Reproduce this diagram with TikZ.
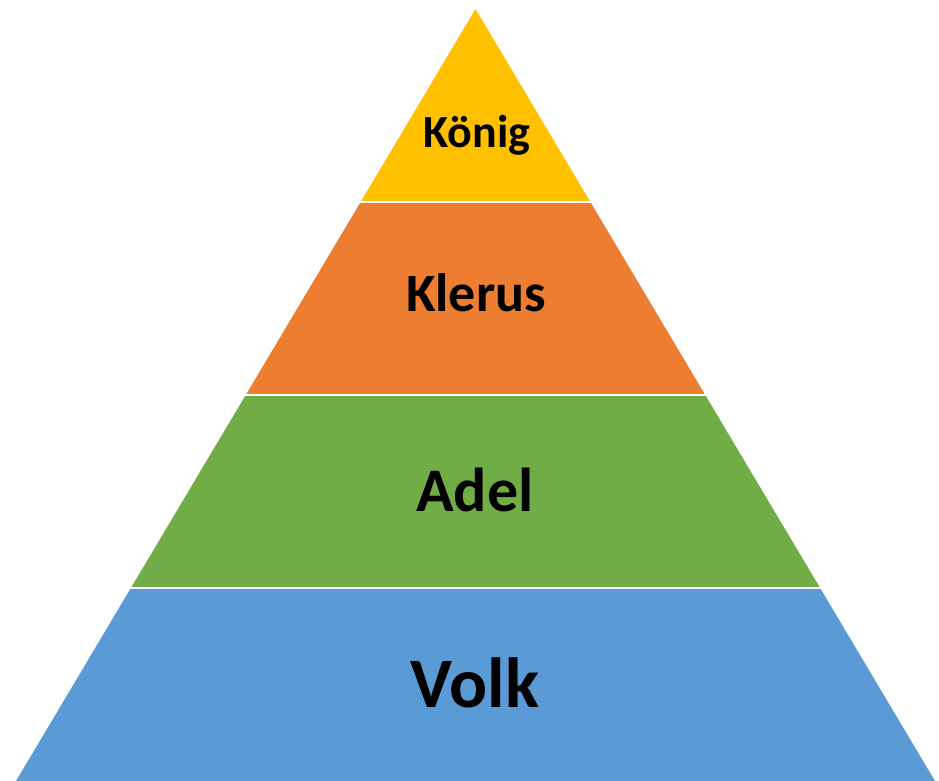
\documentclass[tikz,border=0pt]{standalone}
\usepackage{fontspec}
\setmainfont{Carlito}
\usetikzlibrary{calc}

\definecolor{koenigcol}{HTML}{FFC000}
\definecolor{kleruscol}{HTML}{ED7D31}
\definecolor{adelcol}{HTML}{70AD47}
\definecolor{volkcol}{HTML}{5B9BD5}

\begin{document}
\begin{tikzpicture}[
        x=1pt, y=1pt,
        sep/.style={white, line width=2.5pt, shorten <=-3pt, shorten >=-3pt},
        lbl/.style={anchor=base, inner sep=0pt, font=\bfseries},
    ]
    \useasboundingbox (0,0) rectangle (939,781);

    \coordinate (top) at (475.5,772);
    \coordinate (bl) at (16,0);
    \coordinate (br) at (935,0);
    \foreach \t/\n in {0.25/1, 0.5/2, 0.75/3} {
        \coordinate (l\n) at ($(top)!\t!(bl)$);
        \coordinate (r\n) at ($(top)!\t!(br)$);
    }

    \fill[koenigcol] (top) -- (r1) -- (l1) -- cycle;
    \fill[kleruscol] (l1) -- (r1) -- (r2) -- (l2) -- cycle;
    \fill[adelcol] (l2) -- (r2) -- (r3) -- (l3) -- cycle;
    \fill[volkcol] (l3) -- (r3) -- (br) -- (bl) -- cycle;

    \draw[sep] (l1) -- (r1);
    \draw[sep] (l2) -- (r2);
    \draw[sep] (l3) -- (r3);

    \node[lbl] (koenig) at (477,633) {\fontsize{46}{50}\selectfont König};
    \node[lbl] (klerus) at (476,469) {\fontsize{54}{58}\selectfont Klerus};
    \node[lbl] (adel) at (475,269) {\fontsize{62}{66}\selectfont Adel};
    \node[lbl] (volk) at (475,73) {\fontsize{71}{76}\selectfont Volk};
\end{tikzpicture}
\end{document}
